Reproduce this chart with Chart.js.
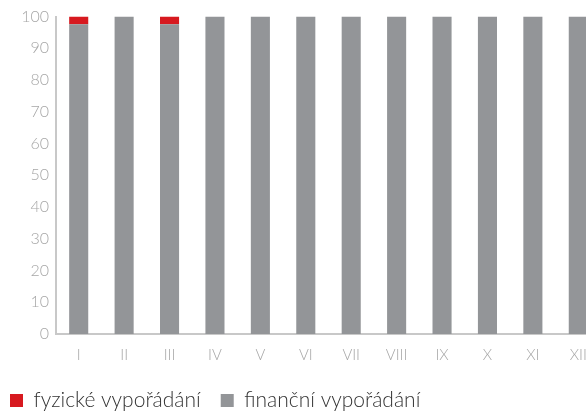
<!DOCTYPE html>
<html>
<head>
<meta charset="utf-8">
<script src="https://cdn.jsdelivr.net/npm/chart.js@4/dist/chart.umd.min.js"></script>
<style>
  html, body { margin: 0; padding: 0; background: #fff; }
  #wrap { width: 586px; height: 414px; overflow: hidden; position: relative; }
  #chart-box { width: 601px; height: 414px; }
</style>
</head>
<body>
<div id="wrap"><div id="chart-box"><canvas id="chart"></canvas></div></div>
<script>
// months (roman numerals)
const months = ['I', 'II', 'III', 'IV', 'V', 'VI', 'VII', 'VIII', 'IX', 'X', 'XI', 'XII'];
// shares in %
const physical = [2.4, 0, 2.4, 0, 0, 0, 0, 0, 0, 0, 0, 0];
const financial = [97.6, 100, 97.6, 100, 100, 100, 100, 100, 100, 100, 100, 100];
const yTicks = [0, 10, 20, 30, 40, 50, 60, 70, 80, 90, 100];

const RED = '#d7191f';
const GREY = '#939598';
const FONT = "Lato, 'Liberation Sans', sans-serif";

// fix legend box height so the legend sits near the bottom edge
const legendHeight = {
    id: 'legendHeight',
    beforeInit(chart) {
        const legend = chart.legend;
        if (!legend) return;
        const fit = legend.fit;
        legend.fit = function () {
            fit.call(this);
            this.height = 44;
        };
    }
};

document.addEventListener('DOMContentLoaded', function () {
    const ctx = document.getElementById('chart').getContext('2d');

    new Chart(ctx, {
        type: 'bar',
        data: {
            labels: months,
            datasets: [{
                label: 'finanční vypořádání',
                data: financial,
                backgroundColor: GREY,
                barPercentage: 0.42,
                categoryPercentage: 1
            }, {
                label: 'fyzické vypořádání',
                data: physical,
                backgroundColor: RED,
                barPercentage: 0.42,
                categoryPercentage: 1
            }]
        },
        plugins: [legendHeight],
        options: {
            responsive: true,
            maintainAspectRatio: false,
            animation: false,
            layout: { padding: { top: 10, left: -10, right: 0, bottom: 0 } },
            scales: {
                x: {
                    stacked: true,
                    afterFit: function (axis) { axis.height = 36; },
                    grid: { display: false, drawTicks: false },
                    border: { display: true, color: '#c8c8c8', width: 2 },
                    ticks: {
                        color: '#a6a6a6',
                        padding: 12,
                        font: { family: FONT, size: 15, weight: 300 }
                    }
                },
                y: {
                    stacked: true,
                    min: 0,
                    max: 100,
                    afterBuildTicks: function (axis) {
                        axis.ticks = yTicks.map(v => ({ value: v }));
                    },
                    afterFit: function (axis) { axis.width = 66; },
                    grid: { display: false, drawTicks: false },
                    border: { display: true, color: '#c8c8c8', width: 2 },
                    ticks: {
                        color: '#a6a6a6',
                        padding: 7,
                        font: { family: FONT, size: 16, weight: 300 }
                    }
                }
            },
            plugins: {
                tooltip: { enabled: false },
                legend: {
                    position: 'bottom',
                    align: 'start',
                    reverse: true,
                    labels: {
                        boxWidth: 13,
                        boxHeight: 13,
                        padding: 20,
                        color: '#333',
                        font: { family: FONT, size: 21, weight: 300 }
                    }
                }
            }
        }
    });
});
</script>
</body>
</html>
